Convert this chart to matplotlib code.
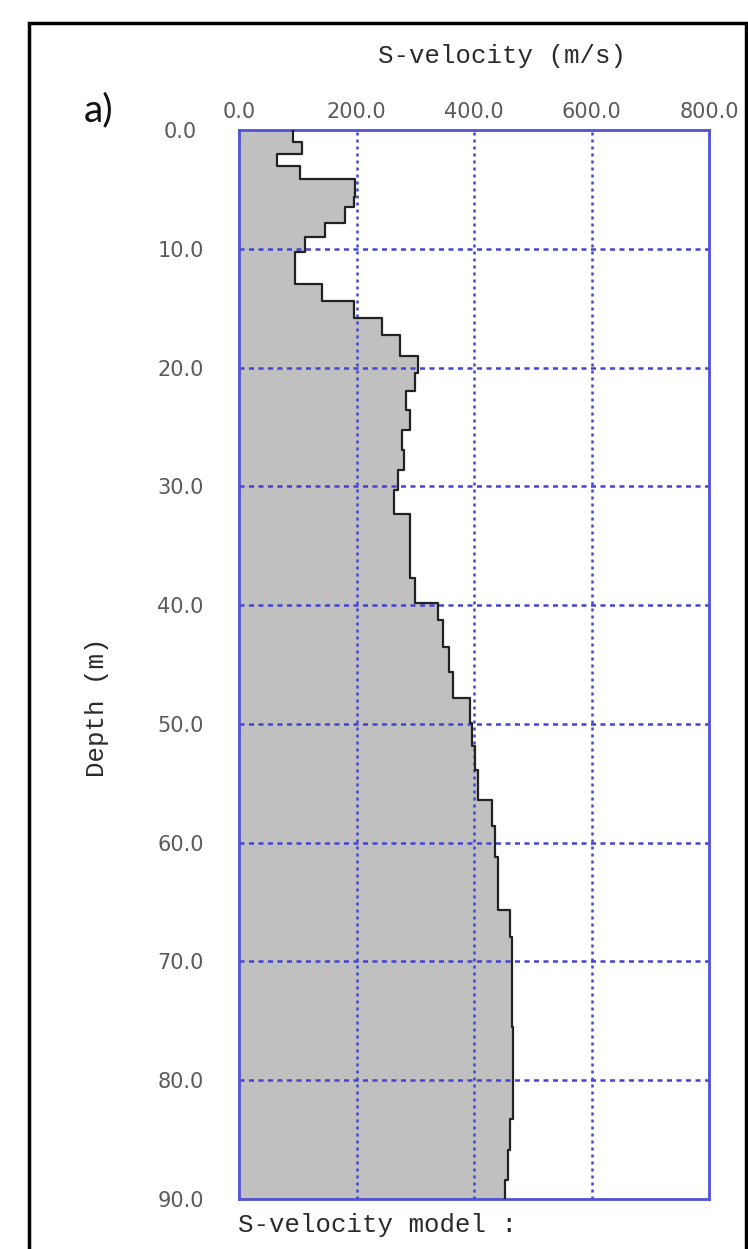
import numpy as np
import matplotlib
matplotlib.use("Agg")
import matplotlib.pyplot as plt
from matplotlib.patches import Rectangle

# layer tops (m) and S-velocity (m/s)
layer_top = [0.0, 1.0, 2.0, 3.0, 4.15, 5.6, 6.5, 7.85, 9.0, 10.25, 13.0, 14.4,
             15.8, 17.3, 19.0, 20.5, 22.0, 23.6, 25.25, 26.9, 28.6, 30.3, 32.3,
             37.7, 39.85, 41.25, 43.5, 45.6, 47.8, 49.9, 51.9, 53.9, 56.4, 58.6,
             61.2, 65.7, 67.9, 75.5, 83.3, 85.9, 88.4]
vs = [92, 108, 64, 104, 198, 195, 180, 146, 112, 95, 141, 196,
      243, 274, 304, 300, 285, 291, 277, 280, 271, 263, 291,
      300, 339, 348, 357, 365, 393, 396, 402, 407, 430, 436,
      441, 461, 465, 467, 461, 458, 453]
max_depth = 90.0

x_ticks = [0, 200, 400, 600, 800]
y_ticks = [0, 10, 20, 30, 40, 50, 60, 70, 80, 90]

W, H = 748, 1249
fig = plt.figure(figsize=(W / 100, H / 100), dpi=100)
ax = fig.add_axes([239 / W, 1 - 1199 / H, (709 - 239) / W, (1199 - 130) / H])

# staircase profile
d = np.repeat(layer_top + [max_depth], 2)[1:-1]
v = np.repeat(vs, 2)
ax.fill_betweenx(d, 0, v, color="#c0c0c0", lw=0, zorder=1)
ax.plot(v, d, color="#222222", lw=1.6, zorder=3)

ax.set_xlim(0, 800)
ax.set_ylim(max_depth, 0)
ax.set_xticks(x_ticks)
ax.set_yticks(y_ticks)
ax.set_xticklabels(["%.1f" % t for t in x_ticks])
ax.set_yticklabels(["%.1f" % t for t in y_ticks], ha="center")
ax.xaxis.tick_top()
ax.tick_params(length=0, labelsize=15, labelcolor="#5a5a5a")
ax.tick_params(axis="x", pad=6)
ax.tick_params(axis="y", pad=42)

gcol = "#4444d4"
for t in x_ticks[1:-1]:
    ax.axvline(t, color=gcol, lw=1.8, ls=(0, (1.2, 1.6)), zorder=2)
for t in y_ticks[1:-1]:
    ax.axhline(t, color=gcol, lw=1.8, ls=(0, (2.0, 1.8)), zorder=2)

for s in ax.spines.values():
    s.set_color("#5050d8")
    s.set_linewidth(2)

mono = "Liberation Mono"
fig.text(502 / W, 1 - 56 / H, "S-velocity (m/s)", family=mono, fontsize=18.5,
         ha="center", va="center", color="#2a2a2a")
fig.text(97 / W, 1 - 707 / H, "Depth (m)", family=mono, fontsize=18.5,
         rotation=90, ha="center", va="center", color="#2a2a2a")
fig.text(238 / W, 1 - 1225 / H, "S-velocity model :", family=mono, fontsize=18.5,
         ha="left", va="center", color="#2a2a2a")
fig.text(84 / W, 1 - 110 / H, "a)", family="Lato", fontsize=28, ha="left",
         va="center", color="#111111")

# outer frame of the panel
fig.patches.append(Rectangle((29 / W, -0.05), (746 - 29) / W, 1 - 23 / H + 0.05,
                             transform=fig.transFigure, fill=False,
                             edgecolor="black", lw=2.5))

fig.savefig("out.png", dpi=100)
